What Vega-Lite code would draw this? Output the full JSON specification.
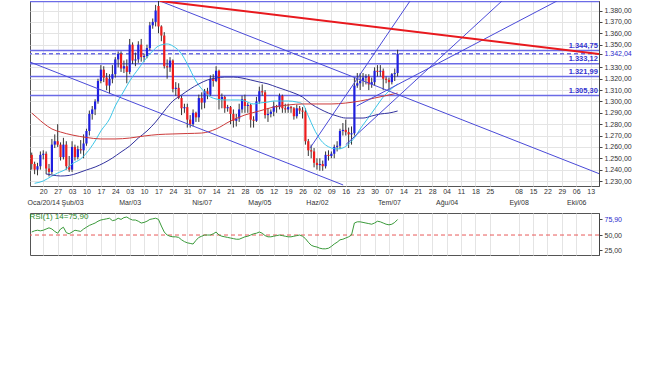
{
  "$schema": "https://vega.github.io/schema/vega-lite/v6.json",
  "padding": {"left": 26, "top": 0, "right": 0, "bottom": 0},
  "background": "white",
  "spacing": 6,
  "config": {
    "font": "Liberation Sans",
    "locale": {"number": {"decimal": ",", "thousands": ".", "grouping": [3], "currency": ["", ""]}},
    "view": {"stroke": "#555", "strokeWidth": 1},
    "axis": {"labelFont": "Liberation Sans", "labelFontSize": 7, "labelColor": "#333", "gridColor": "#e4e4e4", "gridWidth": 1, "domainColor": "#444", "tickColor": "#444", "title": null}
  },
  "datasets": {
    "ohlc": [
      {"i":-4,"d":"2014-01-14","o":1253,"h":1255,"l":1240,"c":1245},
      {"i":-3,"d":"2014-01-15","o":1245,"h":1247,"l":1236,"c":1240},
      {"i":-2,"d":"2014-01-16","o":1240,"h":1246,"l":1235,"c":1243},
      {"i":-1,"d":"2014-01-17","o":1243,"h":1256,"l":1240,"c":1253},
      {"i":0,"d":"2014-01-20","o":1253,"h":1257,"l":1249,"c":1254},
      {"i":1,"d":"2014-01-21","o":1254,"h":1256,"l":1236,"c":1241},
      {"i":2,"d":"2014-01-22","o":1241,"h":1245,"l":1234,"c":1238},
      {"i":3,"d":"2014-01-23","o":1238,"h":1267,"l":1236,"c":1262},
      {"i":4,"d":"2014-01-24","o":1262,"h":1271,"l":1259,"c":1265},
      {"i":5,"d":"2014-01-27","o":1265,"h":1280,"l":1260,"c":1262},
      {"i":6,"d":"2014-01-28","o":1262,"h":1264,"l":1248,"c":1251},
      {"i":7,"d":"2014-01-29","o":1251,"h":1268,"l":1249,"c":1262},
      {"i":8,"d":"2014-01-30","o":1262,"h":1265,"l":1240,"c":1243},
      {"i":9,"d":"2014-01-31","o":1243,"h":1252,"l":1238,"c":1240},
      {"i":10,"d":"2014-02-03","o":1240,"h":1265,"l":1238,"c":1260},
      {"i":11,"d":"2014-02-04","o":1260,"h":1262,"l":1248,"c":1251},
      {"i":12,"d":"2014-02-05","o":1251,"h":1261,"l":1249,"c":1258},
      {"i":13,"d":"2014-02-06","o":1258,"h":1266,"l":1254,"c":1257},
      {"i":14,"d":"2014-02-07","o":1257,"h":1271,"l":1250,"c":1263},
      {"i":15,"d":"2014-02-10","o":1263,"h":1276,"l":1261,"c":1274},
      {"i":16,"d":"2014-02-11","o":1274,"h":1292,"l":1270,"c":1289},
      {"i":17,"d":"2014-02-12","o":1289,"h":1296,"l":1284,"c":1293},
      {"i":18,"d":"2014-02-13","o":1293,"h":1302,"l":1288,"c":1300},
      {"i":19,"d":"2014-02-14","o":1300,"h":1320,"l":1298,"c":1318},
      {"i":20,"d":"2014-02-17","o":1318,"h":1332,"l":1316,"c":1328},
      {"i":21,"d":"2014-02-18","o":1328,"h":1331,"l":1317,"c":1321},
      {"i":22,"d":"2014-02-19","o":1321,"h":1325,"l":1310,"c":1314},
      {"i":23,"d":"2014-02-20","o":1314,"h":1324,"l":1307,"c":1320},
      {"i":24,"d":"2014-02-21","o":1320,"h":1332,"l":1316,"c":1324},
      {"i":25,"d":"2014-02-24","o":1324,"h":1339,"l":1321,"c":1337},
      {"i":26,"d":"2014-02-25","o":1337,"h":1344,"l":1330,"c":1342},
      {"i":27,"d":"2014-02-26","o":1342,"h":1344,"l":1326,"c":1329},
      {"i":28,"d":"2014-02-27","o":1329,"h":1336,"l":1325,"c":1331},
      {"i":29,"d":"2014-02-28","o":1331,"h":1337,"l":1316,"c":1326},
      {"i":30,"d":"2014-03-03","o":1326,"h":1355,"l":1324,"c":1350},
      {"i":31,"d":"2014-03-04","o":1350,"h":1352,"l":1333,"c":1336},
      {"i":32,"d":"2014-03-05","o":1336,"h":1343,"l":1331,"c":1337},
      {"i":33,"d":"2014-03-06","o":1337,"h":1353,"l":1334,"c":1350},
      {"i":34,"d":"2014-03-07","o":1350,"h":1355,"l":1335,"c":1339},
      {"i":35,"d":"2014-03-10","o":1339,"h":1342,"l":1335,"c":1340},
      {"i":36,"d":"2014-03-11","o":1340,"h":1350,"l":1338,"c":1347},
      {"i":37,"d":"2014-03-12","o":1347,"h":1370,"l":1345,"c":1367},
      {"i":38,"d":"2014-03-13","o":1367,"h":1373,"l":1364,"c":1370},
      {"i":39,"d":"2014-03-14","o":1370,"h":1385,"l":1366,"c":1380},
      {"i":40,"d":"2014-03-17","o":1384,"h":1392,"l":1360,"c":1366},
      {"i":41,"d":"2014-03-18","o":1366,"h":1367,"l":1353,"c":1358},
      {"i":42,"d":"2014-03-19","o":1358,"h":1361,"l":1329,"c":1331},
      {"i":43,"d":"2014-03-20","o":1331,"h":1337,"l":1320,"c":1330},
      {"i":44,"d":"2014-03-21","o":1330,"h":1339,"l":1326,"c":1336},
      {"i":45,"d":"2014-03-24","o":1336,"h":1337,"l":1308,"c":1311},
      {"i":46,"d":"2014-03-25","o":1311,"h":1317,"l":1305,"c":1312},
      {"i":47,"d":"2014-03-26","o":1312,"h":1316,"l":1302,"c":1303},
      {"i":48,"d":"2014-03-27","o":1303,"h":1305,"l":1288,"c":1294},
      {"i":49,"d":"2014-03-28","o":1294,"h":1298,"l":1290,"c":1295},
      {"i":50,"d":"2014-03-31","o":1295,"h":1298,"l":1277,"c":1284},
      {"i":51,"d":"2014-04-01","o":1284,"h":1288,"l":1277,"c":1280},
      {"i":52,"d":"2014-04-02","o":1280,"h":1293,"l":1278,"c":1290},
      {"i":53,"d":"2014-04-03","o":1290,"h":1291,"l":1282,"c":1286},
      {"i":54,"d":"2014-04-04","o":1286,"h":1306,"l":1282,"c":1303},
      {"i":55,"d":"2014-04-07","o":1303,"h":1308,"l":1293,"c":1299},
      {"i":56,"d":"2014-04-08","o":1299,"h":1311,"l":1294,"c":1309},
      {"i":57,"d":"2014-04-09","o":1309,"h":1312,"l":1302,"c":1306},
      {"i":58,"d":"2014-04-10","o":1306,"h":1323,"l":1305,"c":1320},
      {"i":59,"d":"2014-04-11","o":1320,"h":1324,"l":1313,"c":1318},
      {"i":60,"d":"2014-04-14","o":1318,"h":1331,"l":1317,"c":1327},
      {"i":61,"d":"2014-04-15","o":1327,"h":1328,"l":1293,"c":1302},
      {"i":62,"d":"2014-04-16","o":1302,"h":1307,"l":1294,"c":1304},
      {"i":63,"d":"2014-04-17","o":1304,"h":1305,"l":1290,"c":1294},
      {"i":64,"d":"2014-04-18","o":1294,"h":1297,"l":1291,"c":1295},
      {"i":65,"d":"2014-04-21","o":1295,"h":1296,"l":1280,"c":1289},
      {"i":66,"d":"2014-04-22","o":1289,"h":1293,"l":1277,"c":1283},
      {"i":67,"d":"2014-04-23","o":1283,"h":1289,"l":1278,"c":1285},
      {"i":68,"d":"2014-04-24","o":1285,"h":1298,"l":1282,"c":1293},
      {"i":69,"d":"2014-04-25","o":1293,"h":1305,"l":1290,"c":1302},
      {"i":70,"d":"2014-04-28","o":1302,"h":1306,"l":1290,"c":1296},
      {"i":71,"d":"2014-04-29","o":1296,"h":1299,"l":1290,"c":1297},
      {"i":72,"d":"2014-04-30","o":1297,"h":1298,"l":1277,"c":1284},
      {"i":73,"d":"2014-05-01","o":1284,"h":1287,"l":1277,"c":1283},
      {"i":74,"d":"2014-05-02","o":1283,"h":1304,"l":1282,"c":1300},
      {"i":75,"d":"2014-05-05","o":1300,"h":1313,"l":1298,"c":1309},
      {"i":76,"d":"2014-05-06","o":1309,"h":1315,"l":1305,"c":1308},
      {"i":77,"d":"2014-05-07","o":1308,"h":1310,"l":1285,"c":1288},
      {"i":78,"d":"2014-05-08","o":1288,"h":1294,"l":1282,"c":1289},
      {"i":79,"d":"2014-05-09","o":1289,"h":1293,"l":1286,"c":1291},
      {"i":80,"d":"2014-05-12","o":1291,"h":1300,"l":1287,"c":1296},
      {"i":81,"d":"2014-05-13","o":1296,"h":1297,"l":1290,"c":1295},
      {"i":82,"d":"2014-05-14","o":1295,"h":1307,"l":1293,"c":1305},
      {"i":83,"d":"2014-05-15","o":1305,"h":1306,"l":1290,"c":1294},
      {"i":84,"d":"2014-05-16","o":1294,"h":1298,"l":1290,"c":1293},
      {"i":85,"d":"2014-05-19","o":1293,"h":1298,"l":1290,"c":1295},
      {"i":86,"d":"2014-05-20","o":1295,"h":1296,"l":1290,"c":1294},
      {"i":87,"d":"2014-05-21","o":1294,"h":1295,"l":1284,"c":1287},
      {"i":88,"d":"2014-05-22","o":1287,"h":1297,"l":1285,"c":1294},
      {"i":89,"d":"2014-05-23","o":1294,"h":1296,"l":1289,"c":1292},
      {"i":90,"d":"2014-05-26","o":1292,"h":1295,"l":1285,"c":1291},
      {"i":91,"d":"2014-05-27","o":1291,"h":1294,"l":1262,"c":1265},
      {"i":92,"d":"2014-05-28","o":1265,"h":1267,"l":1252,"c":1257},
      {"i":93,"d":"2014-05-29","o":1257,"h":1262,"l":1250,"c":1256},
      {"i":94,"d":"2014-05-30","o":1256,"h":1259,"l":1242,"c":1246},
      {"i":95,"d":"2014-06-02","o":1246,"h":1250,"l":1240,"c":1244},
      {"i":96,"d":"2014-06-03","o":1244,"h":1250,"l":1239,"c":1245},
      {"i":97,"d":"2014-06-04","o":1245,"h":1248,"l":1239,"c":1243},
      {"i":98,"d":"2014-06-05","o":1243,"h":1256,"l":1241,"c":1253},
      {"i":99,"d":"2014-06-06","o":1253,"h":1257,"l":1248,"c":1252},
      {"i":100,"d":"2014-06-09","o":1252,"h":1256,"l":1250,"c":1254},
      {"i":101,"d":"2014-06-10","o":1254,"h":1262,"l":1250,"c":1260},
      {"i":102,"d":"2014-06-11","o":1260,"h":1265,"l":1256,"c":1261},
      {"i":103,"d":"2014-06-12","o":1261,"h":1276,"l":1258,"c":1274},
      {"i":104,"d":"2014-06-13","o":1274,"h":1281,"l":1270,"c":1275},
      {"i":105,"d":"2014-06-16","o":1275,"h":1284,"l":1270,"c":1273},
      {"i":106,"d":"2014-06-17","o":1273,"h":1277,"l":1259,"c":1271},
      {"i":107,"d":"2014-06-18","o":1271,"h":1278,"l":1262,"c":1272},
      {"i":108,"d":"2014-06-19","o":1272,"h":1321,"l":1270,"c":1314},
      {"i":109,"d":"2014-06-20","o":1314,"h":1325,"l":1312,"c":1316},
      {"i":110,"d":"2014-06-23","o":1316,"h":1325,"l":1310,"c":1318},
      {"i":111,"d":"2014-06-24","o":1318,"h":1325,"l":1313,"c":1321},
      {"i":112,"d":"2014-06-25","o":1321,"h":1324,"l":1315,"c":1322},
      {"i":113,"d":"2014-06-26","o":1322,"h":1324,"l":1310,"c":1315},
      {"i":114,"d":"2014-06-27","o":1315,"h":1321,"l":1312,"c":1317},
      {"i":115,"d":"2014-06-30","o":1317,"h":1330,"l":1314,"c":1327},
      {"i":116,"d":"2014-07-01","o":1327,"h":1332,"l":1322,"c":1326},
      {"i":117,"d":"2014-07-02","o":1326,"h":1332,"l":1322,"c":1327},
      {"i":118,"d":"2014-07-03","o":1327,"h":1329,"l":1310,"c":1320},
      {"i":119,"d":"2014-07-04","o":1320,"h":1322,"l":1316,"c":1319},
      {"i":120,"d":"2014-07-07","o":1319,"h":1321,"l":1310,"c":1317},
      {"i":121,"d":"2014-07-08","o":1317,"h":1325,"l":1315,"c":1324},
      {"i":122,"d":"2014-07-09","o":1324,"h":1329,"l":1318,"c":1325},
      {"i":123,"d":"2014-07-10","o":1325,"h":1345.5,"l":1322,"c":1342.04}
    ],
    "ma": [
      {"s":"hizli","i":-3,"v":1228},{"s":"hizli","i":0,"v":1230},{"s":"hizli","i":3,"v":1234.4},{"s":"hizli","i":5,"v":1237},{"s":"hizli","i":8,"v":1240.6},{"s":"hizli","i":10,"v":1245},{"s":"hizli","i":13,"v":1249.4},{"s":"hizli","i":15,"v":1254.6},{"s":"hizli","i":18,"v":1265.2},{"s":"hizli","i":20,"v":1274},{"s":"hizli","i":23,"v":1284.6},{"s":"hizli","i":25,"v":1296},{"s":"hizli","i":28,"v":1309.2},{"s":"hizli","i":30,"v":1318},{"s":"hizli","i":33,"v":1328.6},{"s":"hizli","i":35,"v":1335.6},{"s":"hizli","i":38,"v":1344.4},{"s":"hizli","i":40,"v":1348.8},{"s":"hizli","i":43,"v":1350.6},{"s":"hizli","i":45,"v":1348.8},{"s":"hizli","i":48,"v":1341.8},{"s":"hizli","i":50,"v":1333},{"s":"hizli","i":53,"v":1318},{"s":"hizli","i":55,"v":1311},{"s":"hizli","i":58,"v":1304},{"s":"hizli","i":60,"v":1302.2},{"s":"hizli","i":63,"v":1301.3},{"s":"hizli","i":65,"v":1301.3},{"s":"hizli","i":68,"v":1301.3},{"s":"hizli","i":70,"v":1300.4},{"s":"hizli","i":73,"v":1297.8},{"s":"hizli","i":75,"v":1298.6},{"s":"hizli","i":78,"v":1299.5},{"s":"hizli","i":80,"v":1300.4},{"s":"hizli","i":83,"v":1300.4},{"s":"hizli","i":85,"v":1300.4},{"s":"hizli","i":88,"v":1299.5},{"s":"hizli","i":90,"v":1297.8},{"s":"hizli","i":92,"v":1287.2},{"s":"hizli","i":94,"v":1275.8},{"s":"hizli","i":96,"v":1267},{"s":"hizli","i":98,"v":1261.7},{"s":"hizli","i":100,"v":1259.1},{"s":"hizli","i":102,"v":1258.2},{"s":"hizli","i":104,"v":1259.1},{"s":"hizli","i":106,"v":1262.6},{"s":"hizli","i":108,"v":1267.9},{"s":"hizli","i":110,"v":1275.8},{"s":"hizli","i":112,"v":1282.8},{"s":"hizli","i":114,"v":1289.8},{"s":"hizli","i":116,"v":1296.9},{"s":"hizli","i":118,"v":1303.9},{"s":"hizli","i":120,"v":1309.2},{"s":"hizli","i":123,"v":1315.4},
      {"s":"orta","i":1,"v":1236.2},{"s":"orta","i":3,"v":1235.3},{"s":"orta","i":6,"v":1234.4},{"s":"orta","i":9,"v":1234.9},{"s":"orta","i":12,"v":1237},{"s":"orta","i":15,"v":1239.7},{"s":"orta","i":18,"v":1242.3},{"s":"orta","i":21,"v":1245.8},{"s":"orta","i":24,"v":1250.2},{"s":"orta","i":27,"v":1255.5},{"s":"orta","i":30,"v":1260.8},{"s":"orta","i":33,"v":1267.8},{"s":"orta","i":36,"v":1274},{"s":"orta","i":39,"v":1281.9},{"s":"orta","i":42,"v":1291.6},{"s":"orta","i":45,"v":1300.4},{"s":"orta","i":48,"v":1305.7},{"s":"orta","i":51,"v":1311},{"s":"orta","i":54,"v":1315.4},{"s":"orta","i":57,"v":1318.9},{"s":"orta","i":60,"v":1320.6},{"s":"orta","i":63,"v":1321.5},{"s":"orta","i":66,"v":1321.5},{"s":"orta","i":69,"v":1320.6},{"s":"orta","i":72,"v":1318.9},{"s":"orta","i":75,"v":1317.1},{"s":"orta","i":78,"v":1315.4},{"s":"orta","i":81,"v":1312.7},{"s":"orta","i":84,"v":1310.1},{"s":"orta","i":87,"v":1307.4},{"s":"orta","i":90,"v":1303.9},{"s":"orta","i":93,"v":1297.8},{"s":"orta","i":96,"v":1293.4},{"s":"orta","i":99,"v":1289.8},{"s":"orta","i":102,"v":1287.2},{"s":"orta","i":105,"v":1285.4},{"s":"orta","i":108,"v":1285.4},{"s":"orta","i":111,"v":1285.4},{"s":"orta","i":114,"v":1287.2},{"s":"orta","i":117,"v":1289},{"s":"orta","i":120,"v":1289.8},{"s":"orta","i":123,"v":1291.6},
      {"s":"yavas","i":-4,"v":1289.8},{"s":"yavas","i":-2,"v":1285.4},{"s":"yavas","i":0,"v":1281},{"s":"yavas","i":3,"v":1275.8},{"s":"yavas","i":6,"v":1273.1},{"s":"yavas","i":10,"v":1270.5},{"s":"yavas","i":15,"v":1268.3},{"s":"yavas","i":20,"v":1267},{"s":"yavas","i":25,"v":1267},{"s":"yavas","i":30,"v":1267.8},{"s":"yavas","i":35,"v":1269.6},{"s":"yavas","i":40,"v":1270.9},{"s":"yavas","i":45,"v":1271.4},{"s":"yavas","i":50,"v":1271.8},{"s":"yavas","i":55,"v":1272.2},{"s":"yavas","i":60,"v":1275.8},{"s":"yavas","i":65,"v":1282.8},{"s":"yavas","i":70,"v":1288.1},{"s":"yavas","i":75,"v":1291.6},{"s":"yavas","i":80,"v":1295.1},{"s":"yavas","i":85,"v":1296.9},{"s":"yavas","i":90,"v":1297.8},{"s":"yavas","i":95,"v":1297.8},{"s":"yavas","i":100,"v":1297.8},{"s":"yavas","i":105,"v":1298.6},{"s":"yavas","i":110,"v":1300.4},{"s":"yavas","i":115,"v":1303},{"s":"yavas","i":120,"v":1305.7},{"s":"yavas","i":123,"v":1307.4}
    ],
    "trend": [
      {"id":"r1","g":"kirmizi","i":40.5,"v":1388.4},{"id":"r1","g":"kirmizi","i":192.9,"v":1341.8},
      {"id":"k1","g":"mavi","i":40.5,"v":1388.4},{"id":"k1","g":"mavi","i":193.2,"v":1236.2},
      {"id":"k2","g":"mavi","i":-4.6,"v":1334.7},{"id":"k2","g":"mavi","i":104.1,"v":1226.5},
      {"id":"f1","g":"mavi","i":92.6,"v":1259},{"id":"f1","g":"mavi","i":127.3,"v":1388.4},
      {"id":"f2","g":"mavi","i":105,"v":1262},{"id":"f2","g":"mavi","i":159.2,"v":1388.4},
      {"id":"f3","g":"mavi","i":108.8,"v":1296},{"id":"f3","g":"mavi","i":178.3,"v":1388.4}
    ],
    "levels": [
      {"v":1388,"kind":"seviye","label":""},
      {"v":1344.75,"kind":"seviye","label":"1.344,75","i":192.5},
      {"v":1342.04,"kind":"son","label":""},
      {"v":1333.12,"kind":"seviye","label":"1.333,12","i":192.5},
      {"v":1321.99,"kind":"seviye","label":"1.321,99","i":192.5},
      {"v":1305.3,"kind":"seviye","label":"1.305,30","i":192.5}
    ],
    "rsi": [
      {"i":-4,"r":55},{"i":-3,"r":57},{"i":-2,"r":58},{"i":-1,"r":57},{"i":0,"r":58},{"i":1,"r":60},{"i":2,"r":62},{"i":3,"r":60},{"i":4,"r":56},{"i":5,"r":53},{"i":6,"r":60},{"i":7,"r":63},{"i":8,"r":54},{"i":9,"r":52},{"i":10,"r":55},{"i":11,"r":58},{"i":12,"r":57},{"i":13,"r":56},{"i":14,"r":60},{"i":15,"r":63},{"i":16,"r":66},{"i":17,"r":68},{"i":18,"r":70},{"i":19,"r":73},{"i":20,"r":75},{"i":21,"r":76},{"i":22,"r":77},{"i":23,"r":78},{"i":24,"r":74},{"i":25,"r":75},{"i":26,"r":78},{"i":27,"r":76},{"i":28,"r":79},{"i":29,"r":80},{"i":30,"r":77},{"i":31,"r":75},{"i":32,"r":75},{"i":33,"r":73},{"i":34,"r":70},{"i":35,"r":71},{"i":36,"r":73},{"i":37,"r":76},{"i":38,"r":77},{"i":39,"r":78},{"i":40,"r":76},{"i":41,"r":65},{"i":42,"r":55},{"i":43,"r":50},{"i":44,"r":48},{"i":45,"r":47},{"i":46,"r":47},{"i":47,"r":46},{"i":48,"r":42},{"i":49,"r":39},{"i":50,"r":37},{"i":51,"r":36},{"i":52,"r":35},{"i":53,"r":41},{"i":54,"r":46},{"i":55,"r":48},{"i":56,"r":50},{"i":57,"r":50},{"i":58,"r":50},{"i":59,"r":52},{"i":60,"r":55},{"i":61,"r":50},{"i":62,"r":48},{"i":63,"r":47},{"i":64,"r":46},{"i":65,"r":45},{"i":66,"r":44},{"i":67,"r":43},{"i":68,"r":43},{"i":69,"r":45},{"i":70,"r":47},{"i":71,"r":48},{"i":72,"r":50},{"i":73,"r":52},{"i":74,"r":53},{"i":75,"r":55},{"i":76,"r":53},{"i":77,"r":49},{"i":78,"r":47},{"i":79,"r":47},{"i":80,"r":48},{"i":81,"r":49},{"i":82,"r":50},{"i":83,"r":49},{"i":84,"r":48},{"i":85,"r":47},{"i":86,"r":47},{"i":87,"r":48},{"i":88,"r":49},{"i":89,"r":50},{"i":90,"r":48},{"i":91,"r":44},{"i":92,"r":38},{"i":93,"r":33},{"i":94,"r":31},{"i":95,"r":30},{"i":96,"r":28},{"i":97,"r":27},{"i":98,"r":27},{"i":99,"r":28},{"i":100,"r":31},{"i":101,"r":35},{"i":102,"r":38},{"i":103,"r":42},{"i":104,"r":43},{"i":105,"r":45},{"i":106,"r":47},{"i":107,"r":50},{"i":108,"r":70},{"i":109,"r":72},{"i":110,"r":72},{"i":111,"r":71},{"i":112,"r":70},{"i":113,"r":69},{"i":114,"r":68},{"i":115,"r":70},{"i":116,"r":73},{"i":117,"r":72},{"i":118,"r":70},{"i":119,"r":68},{"i":120,"r":67},{"i":121,"r":68},{"i":122,"r":71},{"i":123,"r":75.9}
    ],
    "rsiRef": [{"r": 50}]
  },
  "vconcat": [
    {
      "width": 569,
      "height": 185,
      "encoding": {
        "x": {"field": "i", "type": "quantitative", "scale": {"domain": [-4.6, 192.9], "nice": false, "zero": false},
          "axis": {"orient": "bottom", "title": null, "values": [0,5,10,15,20,25,30,35,40,45,50,55,60,65,70,75,80,85,90,95,100,105,110,115,120,125,130,135,140,145,150,155,165,170,175,180,185,190],
            "tickSize": 0, "labelPadding": 1, "labelBaseline": "top", "labelLineHeight": 11, "labelOverlap": false, "labelBound": false, "labelFlush": false, "domain": false, "grid": true,
            "labelExpr": "[timeFormat(datetime(2014,0,20+datum.value*7/5),'%d'), datum.value==0 ? 'Oca/20/14' : (date(datetime(2014,0,20+datum.value*7/5))<=8 ? ['Oca','Şub','Mar','Nis','May','Haz','Tem','Ağu','Eyl','Eki','Kas','Ara'][month(datetime(2014,0,20+datum.value*7/5))]+'/'+timeFormat(datetime(2014,0,20+datum.value*7/5),'%d') : '')]"}},
        "y": {"field": "v", "type": "quantitative", "scale": {"domain": [1225.6, 1388.4], "nice": false, "zero": false},
          "axis": {"orient": "right", "title": null, "values": [1230,1240,1250,1260,1270,1280,1290,1300,1310,1320,1330,1342.04,1350,1360,1370,1380], "format": ",.2f", "tickSize": 3, "labelPadding": 2, "grid": true, "domain": true,
            "labelColor": {"condition": {"test": "datum.value == 1342.04", "value": "#2a2acc"}, "value": "#333"}}}
      },
      "layer": [
        {
          "data": {"name": "levels"},
          "mark": {"type": "rule", "strokeWidth": 1.5, "color": "#6b6be6", "clip": true},
          "encoding": {
            "x": null,
            "strokeDash": {"field": "kind", "type": "nominal", "scale": {"domain": ["seviye", "son"], "range": [[1, 0], [4, 3]]}, "legend": null}
          }
        },
        {
          "data": {"name": "ohlc"},
          "mark": {"type": "rule", "color": "#333", "strokeWidth": 1, "clip": true},
          "encoding": {
            "y": {"field": "l", "type": "quantitative"},
            "y2": {"field": "h"}
          }
        },
        {
          "data": {"name": "ohlc"},
          "mark": {"type": "rule", "strokeWidth": 2.2, "clip": true},
          "encoding": {
            "y": {"field": "o", "type": "quantitative"},
            "y2": {"field": "c"},
            "color": {"condition": {"test": "datum.c >= datum.o", "value": "#1f1fe0"}, "value": "#ee1c1c"}
          }
        },
        {
          "data": {"name": "ma"},
          "mark": {"type": "line", "strokeWidth": 1, "interpolate": "monotone", "clip": true},
          "encoding": {
            "color": {"field": "s", "type": "nominal", "scale": {"domain": ["hizli", "orta", "yavas"], "range": ["#3cc6e8", "#32329e", "#cc3a3a"]}, "legend": null}
          }
        },
        {
          "data": {"name": "trend"},
          "transform": [{"filter": "datum.g == 'mavi'"}],
          "mark": {"type": "line", "strokeWidth": 1, "color": "#4a4ad8", "clip": true},
          "encoding": {"detail": {"field": "id"}}
        },
        {
          "data": {"name": "trend"},
          "transform": [{"filter": "datum.g == 'kirmizi'"}],
          "mark": {"type": "line", "strokeWidth": 2, "color": "#e8191e", "clip": true},
          "encoding": {"detail": {"field": "id"}}
        },
        {
          "data": {"name": "levels"},
          "transform": [{"filter": "datum.label != ''"}],
          "mark": {"type": "text", "align": "right", "baseline": "bottom", "dy": -0.5, "fontSize": 7.5, "fontWeight": "bold", "color": "#3434d0", "font": "Liberation Sans"},
          "encoding": {"text": {"field": "label"}}
        }
      ]
    },
    {
      "width": 569,
      "height": 42,
      "title": {"text": "RSI(1) 14=75,90", "anchor": "start", "offset": -8, "fontSize": 8, "fontWeight": "normal", "color": "#2a8a2a", "font": "Liberation Sans"},
      "encoding": {
        "x": {"field": "i", "type": "quantitative", "scale": {"domain": [-4.6, 192.9], "nice": false, "zero": false},
          "axis": {"orient": "bottom", "title": null, "values": [0,5,10,15,20,25,30,35,40,45,50,55,60,65,70,75,80,85,90,95,100,105,110,115,120,125,130,135,140,145,150,155,165,170,175,180,185,190], "labels": false, "ticks": false, "domain": false, "grid": true}},
        "y": {"field": "r", "type": "quantitative", "scale": {"domain": [16.7, 86.7], "nice": false, "zero": false},
          "axis": {"orient": "right", "title": null, "values": [25, 50, 75.9], "format": ",.2f", "tickSize": 3, "labelPadding": 2, "grid": false, "domain": true,
            "labelColor": {"condition": {"test": "datum.value == 75.9", "value": "#2a2acc"}, "value": "#333"}}}
      },
      "layer": [
        {
          "data": {"name": "rsiRef"},
          "mark": {"type": "rule", "color": "#e85a5a", "strokeDash": [4, 3], "strokeWidth": 1},
          "encoding": {"x": null}
        },
        {
          "data": {"name": "rsi"},
          "mark": {"type": "line", "strokeWidth": 1, "color": "#3a9a3a", "clip": true}
        }
      ]
    }
  ]
}
